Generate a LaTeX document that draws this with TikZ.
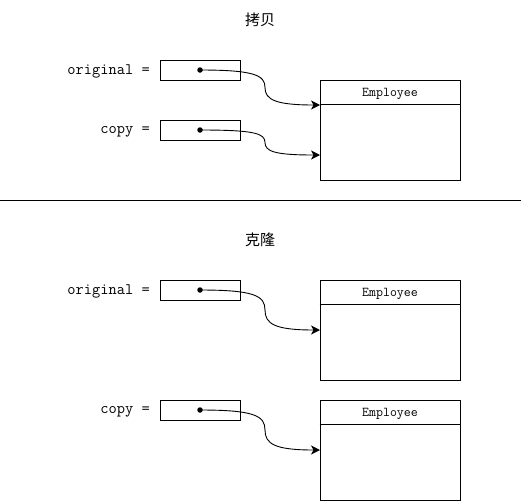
\documentclass[tikz,border=0pt]{standalone}
\usepackage{fontspec}
\newfontfamily\cjk{Noto Sans CJK SC}
\usetikzlibrary{arrows.meta}
\tikzset{
  refbox/.style={draw, line width=1pt, minimum width=80pt, minimum height=20pt, inner sep=0pt},
  empbox/.style={draw, line width=1pt, minimum width=140pt, minimum height=100pt, inner sep=0pt},
  lbl/.style={anchor=east, inner sep=0pt, font=\ttfamily\fontsize{16}{18}\selectfont},
  emptxt/.style={inner sep=0pt, font=\ttfamily\fontsize{13.5}{15}\selectfont},
  ttl/.style={inner sep=0pt, font=\cjk\fontsize{15}{17}\selectfont},
  ptr/.style={line width=0.9pt, -{Stealth[length=9pt,width=9pt,inset=2.5pt]}},
  dotc/.style={circle, fill, inner sep=0pt, minimum size=5.5pt}
}
\begin{document}
\begin{tikzpicture}[x=1pt,y=-1pt]
\useasboundingbox (0,0) rectangle (522,501);
% titles
\node[ttl] (t1) at (260,20) {拷贝};
\node[ttl] (t2) at (260,240) {克隆};
% separator
\coordinate (sepL) at (0,200);
\coordinate (sepR) at (521,200);
\draw[line width=1pt] (sepL) -- (sepR);

% ---- top section
\node[lbl] (l1) at (150,71.5) {original =};
\node[lbl] (l2) at (150,131.5) {copy =};
\node[refbox] (r1) at (200,70) {};
\node[refbox] (r2) at (200,130) {};
\node[empbox] (e1) at (390,130) {};
\draw[line width=1pt] ([yshift=-25pt]e1.north west) coordinate (h1l) -- ([yshift=-25pt]e1.north east) coordinate (h1r);
\node[emptxt] (en1) at (390,94) {Employee};
\node[dotc] (d1) at (r1.center) {};
\node[dotc] (d2) at (r2.center) {};
\coordinate (a1) at (320,105);
\coordinate (a2) at (320,155);
\coordinate (m1) at (265,87.5);
\coordinate (m2) at (265,142.5);
\draw[ptr] (d1.center) .. controls +(55,0) and +(0,-12) .. (m1) .. controls +(0,12) and +(-45,0) .. (a1);
\draw[ptr] (d2.center) .. controls +(55,0) and +(0,-9) .. (m2) .. controls +(0,9) and +(-45,0) .. (a2);

% ---- bottom section
\node[lbl] (l3) at (150,291.5) {original =};
\node[lbl] (l4) at (150,411.5) {copy =};
\node[refbox] (r3) at (200,290) {};
\node[refbox] (r4) at (200,410) {};
\node[empbox] (e3) at (390,330) {};
\node[empbox] (e4) at (390,450) {};
\draw[line width=1pt] ([yshift=-25pt]e3.north west) coordinate (h3l) -- ([yshift=-25pt]e3.north east) coordinate (h3r);
\draw[line width=1pt] ([yshift=-25pt]e4.north west) coordinate (h4l) -- ([yshift=-25pt]e4.north east) coordinate (h4r);
\node[emptxt] (en3) at (390,294) {Employee};
\node[emptxt] (en4) at (390,414) {Employee};
\node[dotc] (d3) at (r3.center) {};
\node[dotc] (d4) at (r4.center) {};
\coordinate (a3) at (320,330);
\coordinate (a4) at (320,450);
\coordinate (m3) at (265,310);
\coordinate (m4) at (265,430);
\draw[ptr] (d3.center) .. controls +(55,0) and +(0,-14) .. (m3) .. controls +(0,14) and +(-45,0) .. (a3);
\draw[ptr] (d4.center) .. controls +(55,0) and +(0,-14) .. (m4) .. controls +(0,14) and +(-45,0) .. (a4);
\end{tikzpicture}
\end{document}
